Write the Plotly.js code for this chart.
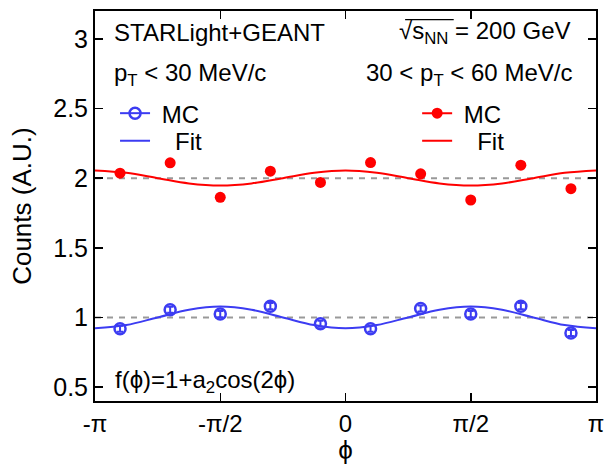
<!DOCTYPE html>
<html>
<head>
<meta charset="utf-8">
<script src="https://cdn.plot.ly/plotly-3.0.1.min.js"></script>
<style>html,body{margin:0;padding:0;background:#fff;}</style>
</head>
<body>
<div id="chart" style="width:605px;height:465px;"></div>
<script>
// Bin centres in units of pi
const binCentersPi = [-0.9, -0.7, -0.5, -0.3, -0.1, 0.1, 0.3, 0.5, 0.7, 0.9];
// pT < 30 MeV/c (blue, open circles)
const lowPtCounts = [0.919, 1.055, 1.024, 1.081, 0.955, 0.919, 1.064, 1.024, 1.081, 0.888];
const lowPtErrors = [0.022, 0.022, 0.022, 0.022, 0.022, 0.022, 0.022, 0.022, 0.022, 0.022];
// 30 < pT < 60 MeV/c (red, filled circles)
const highPtCounts = [2.036, 2.110, 1.862, 2.050, 1.969, 2.112, 2.031, 1.843, 2.093, 1.924];
const highPtErrors = [0.02, 0.02, 0.02, 0.02, 0.02, 0.02, 0.02, 0.02, 0.02, 0.02];
// Fit curves, in units of pi for phi
const fitPhiPi = [-1, -0.875, -0.75, -0.625, -0.5, -0.375, -0.25, -0.125, 0, 0.125, 0.25, 0.375, 0.5, 0.625, 0.75, 0.875, 1];
const lowPtFit = [0.922, 0.945, 1.0, 1.055, 1.078, 1.055, 1.0, 0.945, 0.922, 0.945, 1.0, 1.055, 1.078, 1.055, 1.0, 0.945, 0.922];
const highPtFit = [2.055, 2.038, 2.0, 1.962, 1.947, 1.962, 2.0, 2.038, 2.055, 2.038, 2.0, 1.962, 1.947, 1.962, 2.0, 2.038, 2.055];
// Reference levels (dashed)
const refLevels = [1, 2];
// Axis ticks
const xTickPi = [-1, -0.5, 0, 0.5, 1];
const xTickText = ['-π', '-π/2', '0', 'π/2', 'π'];

const PI = Math.PI;
const toRad = a => a.map(v => v * PI);
const blue = '#3c3cf2';
const red = '#ff0000';
const FONT = 'Liberation Sans, Arial, Helvetica, sans-serif';
const PHI = 'ϕ';

const traces = [
  {x: toRad(fitPhiPi), y: lowPtFit, mode: 'lines', line: {color: blue, width: 2, shape: 'spline'}, showlegend: false, hoverinfo: 'skip'},
  {x: toRad(fitPhiPi), y: highPtFit, mode: 'lines', line: {color: red, width: 2, shape: 'spline'}, showlegend: false, hoverinfo: 'skip'},
  {x: toRad(binCentersPi), y: lowPtCounts, mode: 'markers',
   error_y: {type: 'data', array: lowPtErrors, color: blue, thickness: 2, width: 3},
   marker: {symbol: 'circle-open', size: 11, color: blue, line: {width: 2.5, color: blue}}, showlegend: false},
  {x: toRad(binCentersPi), y: highPtCounts, mode: 'markers',
   error_y: {type: 'data', array: highPtErrors, color: red, thickness: 2, width: 3},
   marker: {symbol: 'circle', size: 11, color: red}, showlegend: false},
  // legend entries
  {x: [null], y: [null], name: '\u00a0MC', mode: 'lines+markers', legend: 'legend',
   line: {color: blue, width: 2}, marker: {symbol: 'circle-open', size: 11, color: blue, line: {width: 2.5, color: blue}}},
  {x: [null], y: [null], name: '\u00a0\u00a0\u00a0Fit', mode: 'lines', legend: 'legend2', line: {color: blue, width: 2}},
  {x: [null], y: [null], name: '\u00a0MC', mode: 'lines+markers', legend: 'legend3',
   line: {color: red, width: 2}, marker: {symbol: 'circle', size: 11, color: red}},
  {x: [null], y: [null], name: '\u00a0\u00a0\u00a0Fit', mode: 'lines', legend: 'legend4', line: {color: red, width: 2}}
];

const shapes = refLevels.map(v => ({
  type: 'line', xref: 'paper', x0: 0, x1: 1, yref: 'y', y0: v, y1: v,
  line: {color: '#999999', width: 2, dash: '6px,6px'}, layer: 'below'
}));
// overline of the square root
shapes.push({type: 'line', xref: 'paper', yref: 'paper', x0: 0.619, x1: 0.716, y0: 0.978, y1: 0.978,
             line: {color: '#000', width: 1.2}});

const ann = (text, x, y, anchor) => ({
  text, x, y, xref: 'paper', yref: 'paper', xanchor: anchor || 'left', yanchor: 'middle',
  showarrow: false, font: {family: FONT, size: 24, color: '#000'}
});

const leg = (x, y) => ({x, y, xanchor: 'left', yanchor: 'middle', bgcolor: 'rgba(0,0,0,0)',
  font: {family: FONT, size: 24, color: '#000'}});

const layout = {
  width: 605, height: 465,
  margin: {l: 95, r: 9, t: 11, b: 64},
  paper_bgcolor: '#fff', plot_bgcolor: '#fff',
  font: {family: FONT, size: 22, color: '#000'},
  xaxis: {
    range: [-PI, PI], tickvals: toRad(xTickPi), ticktext: xTickText,
    ticks: 'inside', ticklen: 8, tickwidth: 1.5, tickcolor: '#000',
    showline: true, linewidth: 2, linecolor: '#000', mirror: 'ticks',
    showgrid: false, zeroline: false,
    tickfont: {family: FONT, size: 24},
    title: {text: PHI, font: {family: FONT, size: 26}, standoff: 6}
  },
  yaxis: {
    range: [0.4, 3.2], tick0: 0.5, dtick: 0.5,
    ticks: 'inside', ticklen: 8, tickwidth: 1.5, tickcolor: '#000',
    showline: true, linewidth: 2, linecolor: '#000', mirror: 'ticks',
    showgrid: false, zeroline: false,
    tickfont: {family: FONT, size: 25},
    title: {text: ''}
  },
  legend: leg(0.04, 0.737),
  legend2: leg(0.04, 0.666),
  legend3: leg(0.643, 0.737),
  legend4: leg(0.643, 0.666),
  shapes,
  annotations: [
    {text: 'Counts (A.U.)', x: -0.146, y: 0.5, xref: 'paper', yref: 'paper', xanchor: 'center', yanchor: 'middle',
     textangle: -90, showarrow: false, font: {family: FONT, size: 26, color: '#000'}},
    ann('STARLight+GEANT', 0.034, 0.944),
    ann('√s<sub>NN</sub> = 200 GeV', 0.603, 0.944),
    ann('p<sub>T</sub> &lt; 30 MeV/c', 0.034, 0.836),
    ann('30 &lt; p<sub>T</sub> &lt; 60 MeV/c', 0.537, 0.836),
    ann('f(' + PHI + ')=1+a<sub>2</sub>cos(2' + PHI + ')', 0.036, 0.051)
  ]
};

Plotly.newPlot('chart', traces, layout, {displayModeBar: false, staticPlot: true});
</script>
</body>
</html>
